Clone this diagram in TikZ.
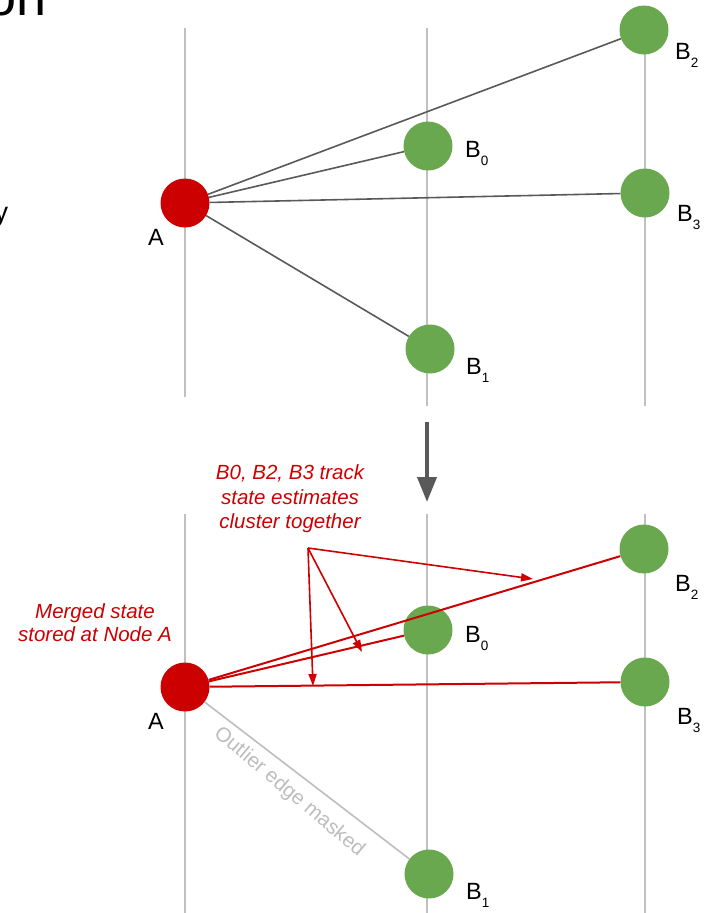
\documentclass[tikz,border=0pt]{standalone}
\usepackage{fontspec}
\setmainfont{Liberation Sans}
\usetikzlibrary{arrows.meta}
\definecolor{ngreen}{HTML}{6AA84F}
\definecolor{nred}{HTML}{CC0000}
\definecolor{vgray}{HTML}{C0C0C0}
\definecolor{dgray}{HTML}{595959}
\definecolor{mgray}{HTML}{BDBDBD}
\newcommand{\lsub}[1]{\raisebox{-8pt}{\fontsize{13.5}{13.5}\selectfont #1}}
\begin{document}
\begin{tikzpicture}[x=1pt,y=-1pt,
 vline/.style={draw=vgray, line width=1.8pt},
 gnode/.style={circle, fill=ngreen, minimum size=49pt, inner sep=0pt},
 rnode/.style={circle, fill=nred, minimum size=49pt, inner sep=0pt},
 lbl/.style={anchor=base west, inner sep=0pt, font=\fontsize{23.5}{27}\selectfont},
 gedge/.style={draw=dgray, line width=1.6pt},
 redge/.style={draw=nred, line width=2pt},
 ann/.style={draw=nred, line width=1.6pt, -{Triangle[length=12pt,width=8pt]}},
 redtxt/.style={text=nred, align=center, inner sep=0pt, anchor=north}
]
\useasboundingbox (0,0) rectangle (704,913);
\clip (0,0) rectangle (704,913);

% cut-off remnants
\node[anchor=base west, inner sep=0pt, font=\fontsize{54}{60}\selectfont] (ttl) at (-14,15) {on};
\node[anchor=base west, inner sep=0pt, font=\fontsize{27}{30}\selectfont] (yy) at (-5.5,221) {y};

% ---------- top panel ----------
\draw[vline] (185,28) -- (185,397);
\draw[vline] (427,28) -- (427,406);
\draw[vline] (645,28) -- (645,406);

\node[gnode] (tB2) at (644,30) {};
\node[gnode] (tB0) at (428,146) {};
\node[gnode] (tB3) at (645,193) {};
\node[gnode] (tB1) at (430,349) {};
\node[rnode] (tA) at (185,203) {};

\draw[gedge] (tA) -- (tB2);
\draw[gedge] (tA) -- (tB0);
\draw[gedge] (tA) -- (tB3);
\draw[gedge] (tA) -- (tB1);

\node[lbl] (ltA) at (148,245) {A};
\node[lbl] (ltB0) at (465,157) {B\lsub{0}};
\node[lbl] (ltB2) at (675,59) {B\lsub{2}};
\node[lbl] (ltB3) at (677,221) {B\lsub{3}};
\node[lbl] (ltB1) at (466,374) {B\lsub{1}};

% ---------- arrow ----------
\coordinate (arS) at (427,422);
\coordinate (arE) at (427,502);
\draw[draw=dgray, fill=dgray, line width=4pt, -{Triangle[length=25pt,width=19pt]}] (arS) -- (arE);

% ---------- bottom panel ----------
\draw[vline] (185,514) -- (185,913);
\draw[vline] (427,514) -- (427,913);
\draw[vline] (645,514) -- (645,913);

\node[gnode] (bB2) at (644,549) {};
\node[gnode] (bB0) at (428,630) {};
\node[gnode] (bB3) at (645,682) {};
\node[gnode] (bB1) at (429,874) {};
\node[rnode] (bA) at (185,687) {};

\draw[redge] (bA) -- (bB2);
\draw[redge] (bA) -- (bB0);
\draw[redge] (bA) -- (bB3);
\draw[draw=mgray, line width=1.6pt] (bA) -- (bB1);

\node[lbl] (lbA) at (148,729) {A};
\node[lbl] (lbB0) at (465,642) {B\lsub{0}};
\node[lbl] (lbB2) at (675,591) {B\lsub{2}};
\node[lbl] (lbB3) at (677,724) {B\lsub{3}};
\node[lbl] (lbB1) at (466,899) {B\lsub{1}};

\node[rotate=-40, text=mgray, inner sep=0pt, font=\fontsize{20.5}{24}\selectfont] (outl) at (289,792) {Outlier edge masked};

\node[redtxt, font=\fontsize{20.5}{24.5}\selectfont\itshape] (cl) at (290,464.5) {B0, B2, B3 track\\state estimates\\cluster together};
\node[redtxt, font=\fontsize{20.5}{22.5}\selectfont\itshape] (mg) at (95,603.5) {Merged state\\stored at Node A};

\coordinate (aO) at (308,548);
\coordinate (t1) at (533,579);
\coordinate (t2) at (362,652);
\coordinate (t3) at (313,686);
\draw[ann] (aO) -- (t1);
\draw[ann] (aO) -- (t2);
\draw[ann] (aO) -- (t3);
\end{tikzpicture}
\end{document}
